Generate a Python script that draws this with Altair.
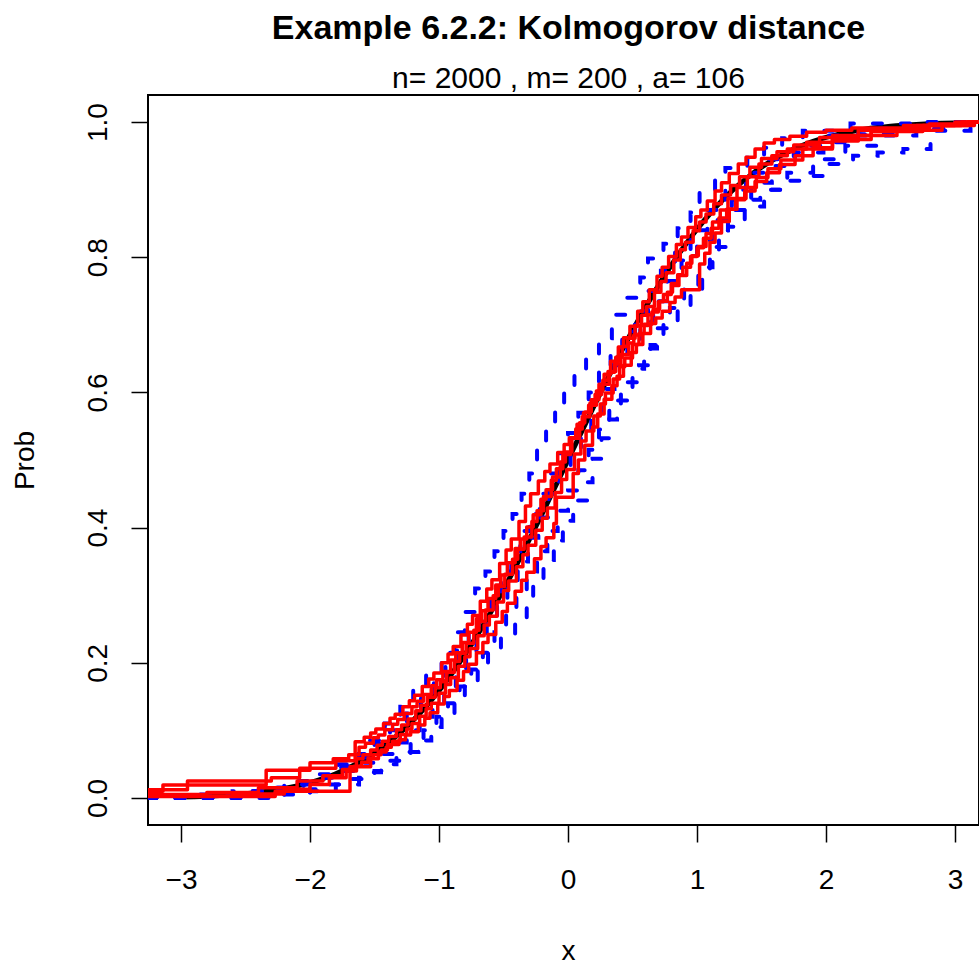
import altair as alt
import pandas as pd

# ---- values ----
# reference normal CDF (black curve)
norm_x = [-3.0, -2.9, -2.8, -2.7, -2.6, -2.5, -2.4, -2.3, -2.2, -2.1, -2.0, -1.9, -1.8, -1.7, -1.6,
          -1.5, -1.4, -1.3, -1.2, -1.1, -1.0, -0.9, -0.8, -0.7, -0.6, -0.5, -0.4, -0.3, -0.2, -0.1,
          0.0, 0.1, 0.2, 0.3, 0.4, 0.5, 0.6, 0.7, 0.8, 0.9, 1.0, 1.1, 1.2, 1.3, 1.4, 1.5, 1.6, 1.7,
          1.8, 1.9, 2.0, 2.1, 2.2, 2.3, 2.4, 2.5, 2.6, 2.7, 2.8, 2.9, 3.0]
norm_y = [0.0013, 0.0019, 0.0026, 0.0035, 0.0047, 0.0062, 0.0082, 0.0107, 0.0139, 0.0179, 0.0228,
          0.0287, 0.0359, 0.0446, 0.0548, 0.0668, 0.0808, 0.0968, 0.1151, 0.1357, 0.1587, 0.1841,
          0.2119, 0.2420, 0.2743, 0.3085, 0.3446, 0.3821, 0.4207, 0.4602, 0.5000, 0.5398, 0.5793,
          0.6179, 0.6554, 0.6915, 0.7257, 0.7580, 0.7881, 0.8159, 0.8413, 0.8643, 0.8849, 0.9032,
          0.9192, 0.9332, 0.9452, 0.9554, 0.9641, 0.9713, 0.9772, 0.9821, 0.9861, 0.9893, 0.9918,
          0.9938, 0.9953, 0.9965, 0.9974, 0.9981, 0.9987]

# blue dashed empirical CDFs
blue1_x = [-3.26, -2.75, -2.45, -2.2, -2.0, -1.85, -1.7, -1.55, -1.42, -1.3, -1.2, -1.1, -0.98, -0.88,
           -0.8, -0.72, -0.64, -0.57, -0.5, -0.43, -0.36, -0.3, -0.24, -0.17, -0.1, -0.03, 0.05, 0.14,
           0.24, 0.34, 0.45, 0.56, 0.62, 0.74, 0.85, 0.95, 1.02, 1.14, 1.22, 1.39, 1.52, 1.66, 1.82,
           2.19, 2.7, 3.19]
blue1_y = [0.0, 0.005, 0.01, 0.02, 0.03, 0.045, 0.06, 0.085, 0.11, 0.135, 0.16, 0.185, 0.215, 0.245,
           0.275, 0.31, 0.335, 0.365, 0.395, 0.42, 0.45, 0.48, 0.515, 0.545, 0.575, 0.6, 0.625, 0.65,
           0.68, 0.715, 0.74, 0.77, 0.798, 0.82, 0.843, 0.866, 0.895, 0.916, 0.932, 0.947, 0.962,
           0.976, 0.987, 0.998, 1.0, 1.0]

blue2_x = [-3.26, -2.3, -2.0, -1.8, -1.62, -1.5, -1.38, -1.28, -1.16, -1.06, -0.98, -0.88, -0.8, -0.7,
           -0.62, -0.52, -0.41, -0.32, -0.27, -0.19, -0.11, -0.04, 0.04, 0.15, 0.19, 0.26, 0.32, 0.38,
           0.46, 0.55, 0.64, 0.74, 0.85, 0.95, 1.04, 1.1, 1.17, 1.24, 1.37, 1.49, 1.66, 1.82, 2.0,
           2.21, 2.4, 2.6, 2.81, 3.12, 3.19]
blue2_y = [0.0, 0.005, 0.01, 0.02, 0.03, 0.04, 0.055, 0.068, 0.085, 0.105, 0.12, 0.145, 0.165, 0.188,
           0.219, 0.24, 0.263, 0.292, 0.322, 0.352, 0.381, 0.41, 0.44, 0.467, 0.502, 0.532, 0.56, 0.588,
           0.615, 0.64, 0.67, 0.7, 0.724, 0.75, 0.777, 0.81, 0.84, 0.87, 0.885, 0.9, 0.913, 0.92, 0.938,
           0.95, 0.955, 0.96, 0.987, 1.0, 1.0]

blue3_x = [-3.26, -2.9, -2.6, -2.35, -2.15, -1.95, -1.78, -1.62, -1.5, -1.38, -1.25, -1.14, -1.04,
           -0.95, -0.86, -0.77, -0.69, -0.6, -0.52, -0.44, -0.37, -0.3, -0.22, -0.15, -0.08, 0.0, 0.08,
           0.16, 0.24, 0.33, 0.42, 0.52, 0.62, 0.72, 0.83, 0.95, 1.08, 1.22, 1.38, 1.55, 1.75, 2.0,
           2.35, 2.9, 3.19]
blue3_y = [0.0, 0.005, 0.01, 0.015, 0.025, 0.035, 0.05, 0.065, 0.08, 0.1, 0.125, 0.15, 0.175, 0.2,
           0.225, 0.255, 0.28, 0.305, 0.335, 0.365, 0.395, 0.42, 0.45, 0.48, 0.51, 0.54, 0.57, 0.6,
           0.63, 0.66, 0.69, 0.72, 0.75, 0.78, 0.81, 0.84, 0.87, 0.9, 0.925, 0.945, 0.965, 0.98, 0.99,
           1.0, 1.0]

blue4_x = [-3.26, -2.5, -2.2, -2.0, -1.85, -1.7, -1.56, -1.45, -1.33, -1.22, -1.12, -1.02, -0.93,
           -0.84, -0.75, -0.66, -0.57, -0.48, -0.4, -0.32, -0.24, -0.16, -0.08, 0.0, 0.08, 0.16, 0.24,
           0.32, 0.41, 0.5, 0.59, 0.69, 0.79, 0.9, 1.01, 1.12, 1.24, 1.37, 1.52, 1.7, 1.9, 2.15, 2.45,
           2.7, 2.98, 3.19]
blue4_y = [0.0, 0.003, 0.008, 0.013, 0.02, 0.028, 0.038, 0.05, 0.065, 0.08, 0.1, 0.12, 0.14, 0.165,
           0.19, 0.215, 0.245, 0.275, 0.305, 0.335, 0.365, 0.395, 0.425, 0.455, 0.485, 0.515, 0.545,
           0.575, 0.605, 0.635, 0.665, 0.695, 0.725, 0.755, 0.785, 0.815, 0.845, 0.875, 0.9, 0.925,
           0.945, 0.965, 0.98, 0.99, 1.0, 1.0]

blue5_x = [-3.26, -3.0, -2.7, -2.45, -2.25, -2.05, -1.9, -1.75, -1.6, -1.48, -1.36, -1.25, -1.15,
           -1.05, -0.96, -0.87, -0.79, -0.71, -0.63, -0.55, -0.47, -0.39, -0.31, -0.23, -0.15, -0.07,
           0.02, 0.1, 0.18, 0.27, 0.36, 0.46, 0.56, 0.66, 0.77, 0.88, 1.0, 1.13, 1.27, 1.42, 1.58, 1.76,
           1.98, 2.25, 2.55, 3.0, 3.19]
blue5_y = [0.0, 0.003, 0.006, 0.01, 0.015, 0.022, 0.03, 0.04, 0.052, 0.065, 0.082, 0.1, 0.12, 0.14,
           0.16, 0.185, 0.21, 0.235, 0.26, 0.29, 0.32, 0.35, 0.385, 0.415, 0.45, 0.48, 0.51, 0.54,
           0.57, 0.605, 0.64, 0.675, 0.705, 0.735, 0.765, 0.795, 0.825, 0.855, 0.885, 0.91, 0.935,
           0.955, 0.97, 0.982, 0.99, 1.0, 1.0]

# red solid empirical CDFs
red1_x = [-3.26, -3.14, -2.34, -2.0, -1.82, -1.7, -1.62, -1.57, -1.51, -1.47, -1.42, -1.36, -1.32,
          -1.27, -1.21, -1.17, -1.12, -1.06, -1.02, -0.97, -0.91, -0.87, -0.82, -0.77, -0.71, -0.67,
          -0.62, -0.56, -0.52, -0.47, -0.41, -0.37, -0.32, -0.27, -0.21, -0.17, -0.12, -0.06, -0.02,
          0.03, 0.09, 0.13, 0.18, 0.24, 0.28, 0.33, 0.39, 0.43, 0.48, 0.54, 0.58, 0.63, 0.69, 0.73,
          0.78, 0.84, 0.88, 0.93, 0.99, 1.03, 1.08, 1.14, 1.19, 1.25, 1.32, 1.38, 1.45, 1.52, 1.6,
          1.72, 1.85, 2.0, 2.2, 2.6, 3.0, 3.19]
red1_y = [0.010, 0.019, 0.041, 0.052, 0.058, 0.064, 0.075, 0.081, 0.089, 0.093, 0.101, 0.109, 0.116,
          0.125, 0.135, 0.143, 0.153, 0.166, 0.175, 0.187, 0.204, 0.215, 0.230, 0.245, 0.265, 0.277,
          0.295, 0.315, 0.330, 0.348, 0.369, 0.383, 0.401, 0.419, 0.442, 0.456, 0.475, 0.497, 0.512,
          0.532, 0.555, 0.571, 0.589, 0.612, 0.627, 0.646, 0.667, 0.681, 0.698, 0.720, 0.734, 0.752,
          0.772, 0.785, 0.801, 0.819, 0.830, 0.844, 0.860, 0.870, 0.883, 0.898, 0.910, 0.924, 0.938,
          0.948, 0.960, 0.969, 0.974, 0.979, 0.985, 0.988, 0.991, 0.995, 1.0, 1.0]

red2_x = [-3.26, -2.95, -2.3, -2.08, -1.8, -1.65, -1.58, -1.53, -1.49, -1.43, -1.38, -1.34, -1.28,
          -1.23, -1.19, -1.13, -1.08, -1.04, -0.98, -0.93, -0.89, -0.83, -0.78, -0.74, -0.68, -0.63,
          -0.59, -0.53, -0.48, -0.44, -0.38, -0.33, -0.29, -0.23, -0.18, -0.14, -0.08, -0.03, 0.01,
          0.07, 0.12, 0.16, 0.22, 0.27, 0.31, 0.37, 0.42, 0.46, 0.52, 0.57, 0.61, 0.67, 0.72, 0.76,
          0.82, 0.87, 0.91, 0.97, 1.02, 1.07, 1.13, 1.19, 1.26, 1.33, 1.41, 1.5, 1.62, 1.75, 1.95,
          2.25, 2.7, 3.1, 3.19]
red2_y = [0.012, 0.025, 0.030, 0.044, 0.055, 0.083, 0.090, 0.096, 0.102, 0.110, 0.118, 0.124, 0.135,
          0.144, 0.152, 0.165, 0.176, 0.185, 0.200, 0.213, 0.224, 0.241, 0.257, 0.270, 0.291, 0.309,
          0.323, 0.347, 0.367, 0.383, 0.409, 0.432, 0.450, 0.469, 0.483, 0.494, 0.511, 0.523, 0.533,
          0.553, 0.570, 0.581, 0.602, 0.618, 0.631, 0.652, 0.668, 0.680, 0.699, 0.714, 0.727, 0.748,
          0.764, 0.777, 0.796, 0.811, 0.822, 0.839, 0.852, 0.864, 0.879, 0.892, 0.906, 0.919, 0.933,
          0.946, 0.956, 0.966, 0.977, 0.988, 0.995, 1.0, 1.0]

red3_x = [-3.26, -2.27, -1.69, -1.53, -1.47, -1.41, -1.37, -1.31, -1.26, -1.22, -1.16, -1.11, -1.07,
          -1.01, -0.96, -0.92, -0.86, -0.81, -0.77, -0.71, -0.66, -0.62, -0.56, -0.51, -0.47, -0.41,
          -0.36, -0.32, -0.26, -0.21, -0.17, -0.11, -0.09, 0.04, 0.08, 0.13, 0.19, 0.23, 0.28, 0.34,
          0.38, 0.43, 0.49, 0.53, 0.58, 0.64, 0.68, 0.73, 0.79, 0.83, 0.88, 1.02, 1.06, 1.1, 1.14,
          1.19, 1.25, 1.31, 1.38, 1.46, 1.55, 1.65, 1.82, 2.05, 2.35, 2.75, 3.05, 3.19]
red3_y = [0.002, 0.010, 0.046, 0.058, 0.068, 0.075, 0.079, 0.086, 0.093, 0.098, 0.108, 0.118, 0.126,
          0.139, 0.150, 0.159, 0.174, 0.187, 0.198, 0.215, 0.230, 0.242, 0.260, 0.276, 0.288, 0.306,
          0.322, 0.334, 0.354, 0.372, 0.385, 0.406, 0.445, 0.480, 0.500, 0.522, 0.549, 0.568, 0.590,
          0.610, 0.624, 0.640, 0.659, 0.671, 0.687, 0.702, 0.710, 0.720, 0.733, 0.741, 0.752, 0.790,
          0.806, 0.822, 0.836, 0.853, 0.871, 0.887, 0.903, 0.918, 0.931, 0.944, 0.960, 0.974, 0.986,
          0.995, 1.0, 1.0]

red4_x = [-3.26, -2.8, -2.4, -2.1, -1.9, -1.75, -1.66, -1.6, -1.55, -1.51, -1.45, -1.4, -1.36, -1.3,
          -1.25, -1.21, -1.15, -1.1, -1.06, -1.0, -0.95, -0.91, -0.85, -0.8, -0.76, -0.7, -0.65,
          -0.61, -0.55, -0.5, -0.46, -0.4, -0.35, -0.31, -0.25, -0.2, -0.16, -0.1, -0.05, -0.01,
          0.05, 0.1, 0.14, 0.2, 0.25, 0.29, 0.35, 0.4, 0.44, 0.5, 0.55, 0.59, 0.65, 0.7, 0.74, 0.8,
          0.85, 0.89, 0.95, 1.0, 1.05, 1.11, 1.17, 1.23, 1.3, 1.37, 1.45, 1.54, 1.64, 1.76, 1.9,
          2.05, 2.25, 2.55, 2.9, 3.15, 3.19]
red4_y = [0.005, 0.008, 0.015, 0.025, 0.033, 0.042, 0.047, 0.053, 0.059, 0.064, 0.071, 0.079, 0.084,
          0.094, 0.102, 0.110, 0.121, 0.132, 0.140, 0.155, 0.168, 0.178, 0.195, 0.209, 0.221, 0.240,
          0.256, 0.269, 0.290, 0.307, 0.321, 0.342, 0.360, 0.374, 0.396, 0.414, 0.429, 0.452, 0.471,
          0.486, 0.509, 0.528, 0.543, 0.565, 0.583, 0.599, 0.620, 0.638, 0.651, 0.671, 0.687, 0.701,
          0.719, 0.734, 0.745, 0.761, 0.774, 0.785, 0.801, 0.814, 0.828, 0.843, 0.858, 0.871, 0.885,
          0.898, 0.912, 0.925, 0.937, 0.950, 0.962, 0.972, 0.980, 0.988, 0.995, 1.0, 1.0]

red5_x = [-3.26, -2.6, -2.2, -2.0, -1.85, -1.72, -1.64, -1.59, -1.53, -1.48, -1.44, -1.39, -1.33,
          -1.29, -1.24, -1.18, -1.14, -1.09, -1.03, -0.99, -0.94, -0.88, -0.84, -0.79, -0.73, -0.69,
          -0.64, -0.58, -0.54, -0.49, -0.43, -0.39, -0.34, -0.28, -0.24, -0.19, -0.13, -0.09, -0.04,
          0.02, 0.06, 0.11, 0.17, 0.21, 0.26, 0.32, 0.36, 0.41, 0.47, 0.51, 0.56, 0.62, 0.66, 0.71,
          0.77, 0.81, 0.86, 0.92, 0.96, 1.01, 1.07, 1.12, 1.18, 1.24, 1.31, 1.39, 1.48, 1.58, 1.7,
          1.85, 2.05, 2.35, 2.8, 3.1, 3.19]
red5_y = [0.003, 0.006, 0.013, 0.020, 0.030, 0.040, 0.058, 0.064, 0.071, 0.078, 0.084, 0.091, 0.101,
          0.108, 0.117, 0.129, 0.137, 0.149, 0.163, 0.172, 0.186, 0.202, 0.214, 0.229, 0.248, 0.261,
          0.278, 0.299, 0.313, 0.331, 0.353, 0.368, 0.386, 0.409, 0.425, 0.446, 0.470, 0.487, 0.508,
          0.532, 0.546, 0.564, 0.584, 0.597, 0.612, 0.630, 0.642, 0.656, 0.673, 0.685, 0.699, 0.715,
          0.723, 0.735, 0.748, 0.758, 0.773, 0.791, 0.802, 0.816, 0.835, 0.852, 0.870, 0.887, 0.903,
          0.919, 0.938, 0.950, 0.960, 0.970, 0.980, 0.990, 0.997, 1.0, 1.0]

x_ticks = [-3, -2, -1, 0, 1, 2, 3]
y_ticks = [0.0, 0.2, 0.4, 0.6, 0.8, 1.0]

title_text = "Example 6.2.2: Kolmogorov distance"
subtitle_text = "n= 2000 , m= 200 , a= 106"

# ---- build tables ----
def table(name, xs, ys):
    return pd.DataFrame({"x": xs, "y": ys, "series": name})

norm_df = table("normal", norm_x, norm_y)
blue_df = pd.concat([
    table("b1", blue1_x, blue1_y), table("b2", blue2_x, blue2_y), table("b3", blue3_x, blue3_y),
    table("b4", blue4_x, blue4_y), table("b5", blue5_x, blue5_y)], ignore_index=True)
red_df = pd.concat([
    table("r1", red1_x, red1_y), table("r2", red2_x, red2_y), table("r3", red3_x, red3_y),
    table("r4", red4_x, red4_y), table("r5", red5_x, red5_y)], ignore_index=True)

FONT = "Liberation Sans"

x_enc = alt.X("x:Q", scale=alt.Scale(domain=[-3.256, 3.186], nice=False, zero=False),
              axis=alt.Axis(values=x_ticks, format="d", title="x", domain=False, grid=False,
                            tickSize=17, tickWidth=1.5, tickColor="black",
                            labelFontSize=28, labelColor="black", labelFont=FONT, labelPadding=24,
                            titleFontSize=28, titleFontWeight="normal", titleColor="black",
                            titleFont=FONT, titleX=420, titleY=134, titleBaseline="alphabetic",
                            titleAlign="center"))
y_enc = alt.Y("y:Q", scale=alt.Scale(domain=[-0.04, 1.04], nice=False, zero=False),
              axis=alt.Axis(values=y_ticks, format=".1f", title="Prob", domain=False, grid=False,
                            tickSize=17, tickWidth=1.5, tickColor="black",
                            labelFontSize=28, labelColor="black", labelFont=FONT, labelPadding=25,
                            labelAngle=270, labelAlign="center", labelBaseline="alphabetic",
                            titleFontSize=28, titleFontWeight="normal", titleColor="black",
                            titleFont=FONT, titleAngle=270, titleX=-115, titleY=365,
                            titleBaseline="alphabetic", titleAlign="center"))

black = alt.Chart(norm_df).mark_line(color="black", strokeWidth=5, interpolate="monotone",
                                     clip=True).encode(x=x_enc, y=y_enc)
blue = alt.Chart(blue_df).mark_line(color="#0000FF", strokeWidth=4, interpolate="step-after",
                                    strokeDash=[9, 19], strokeCap="round", clip=True).encode(
    x="x:Q", y="y:Q", detail="series:N")
red = alt.Chart(red_df).mark_line(color="#FF0000", strokeWidth=3.5, interpolate="step-after",
                                  strokeJoin="round", clip=True).encode(
    x="x:Q", y="y:Q", detail="series:N")

chart = alt.layer(black, blue, red).properties(
    width=831, height=730,
    padding={"left": 148, "top": 95, "right": 0, "bottom": 139},
    autosize=alt.AutoSizeParams(type="none"),
    title=alt.Title(text=title_text, subtitle=subtitle_text, font=FONT, fontSize=34,
                    fontWeight="bold", color="black", subtitleFont=FONT, subtitleFontSize=30,
                    subtitleColor="black", anchor="middle", dx=5, offset=1, subtitlePadding=18),
).configure(
    font=FONT, background="white",
    view=alt.ViewConfig(stroke="black", strokeWidth=2),
)

chart.save("out.html", embed_options={"renderer": "svg", "actions": False})
